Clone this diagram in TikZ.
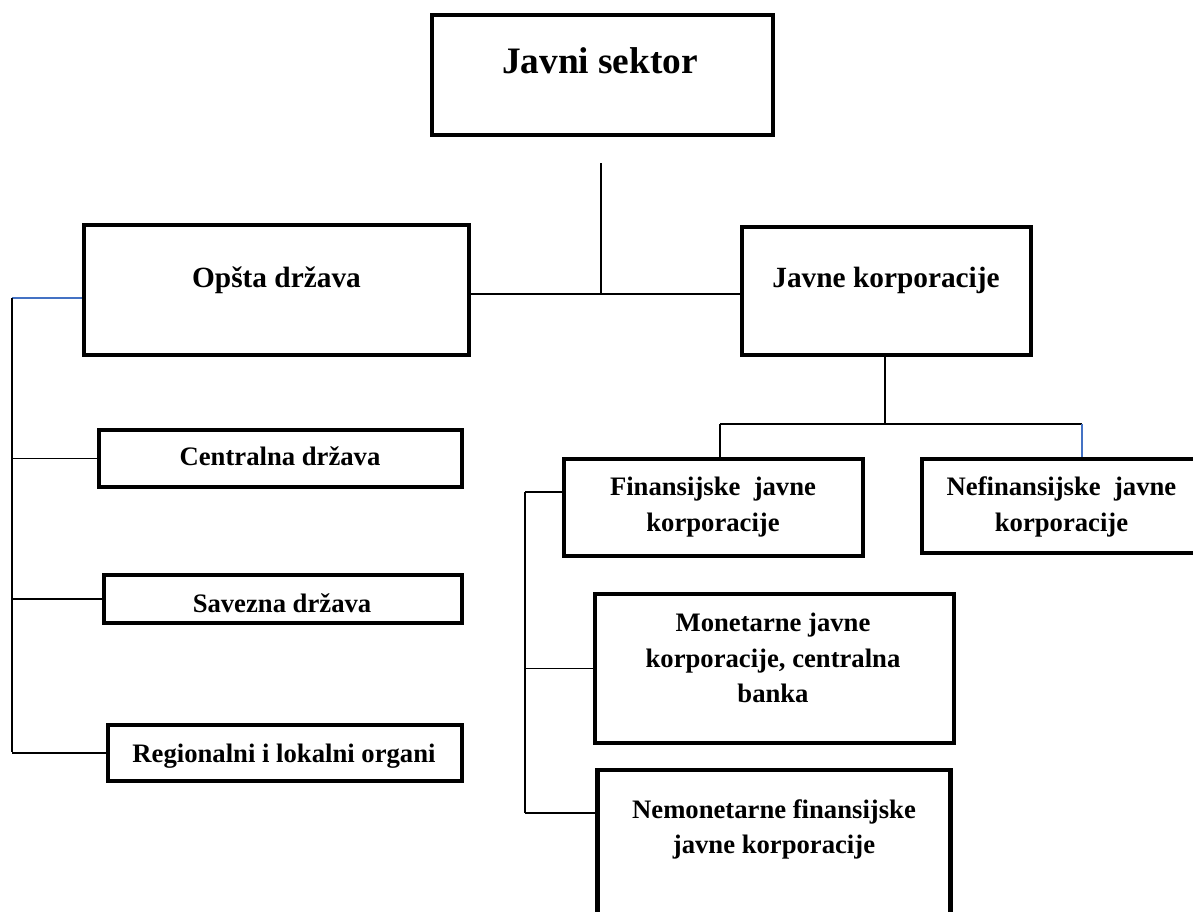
\documentclass[tikz,border=0pt]{standalone}
\usepackage{fontspec}
\setmainfont{Liberation Serif}
\definecolor{plava}{RGB}{68,114,196}
\tikzset{
  blok/.style={draw, line width=3.4pt, inner sep=0pt, rectangle},
  natpis/.style={font=\bfseries\fontsize{20}{26.5}\selectfont, align=center, inner sep=0pt},
  veza/.style={line width=0.9pt},
}
\begin{document}
\begin{tikzpicture}[x=0.75pt,y=0.75pt,yscale=-1,xscale=1]
\useasboundingbox (0,0) rectangle (1193,911);
% Boxes
\node[blok, minimum width=255.75pt, minimum height=90pt] (js) at (602.5,75) {};
\node[blok, minimum width=288.75pt, minimum height=97.5pt] (od) at (276.5,290) {};
\node[blok, minimum width=216.75pt, minimum height=96pt] (jk) at (886.5,291) {};
\node[blok, minimum width=272.25pt, minimum height=42.75pt] (cd) at (280.5,458.5) {};
\node[blok, minimum width=268.5pt, minimum height=36pt] (sd) at (283,599) {};
\node[blok, minimum width=265.5pt, minimum height=42pt] (rlo) at (285,753) {};
\node[blok, minimum width=224.25pt, minimum height=72.75pt] (fjk) at (713.5,507.5) {};
\node[blok, minimum width=216pt, minimum height=70.5pt] (njk) at (1066,506) {};
\node[blok, minimum width=269.25pt, minimum height=111.75pt] (mjk) at (774.5,668.5) {};
\node[blok, minimum width=264.75pt, minimum height=135pt] (nfjk) at (774,860) {};
% Labels
\node[natpis, font=\bfseries\fontsize{28}{32}\selectfont, anchor=base] (js-t) at (600,73) {Javni sektor};
\node[natpis, font=\bfseries\fontsize{22}{26}\selectfont, anchor=base] (od-t) at (276.5,287) {Opšta država};
\node[natpis, font=\bfseries\fontsize{22}{26}\selectfont, anchor=base] (jk-t) at (886,287) {Javne korporacije};
\node[natpis, anchor=base] (cd-t) at (280,465) {Centralna država};
\node[natpis, anchor=base] (sd-t) at (282,612) {Savezna država};
\node[natpis, anchor=base] (rlo-t) at (284,762) {Regionalni i lokalni organi};
\node[natpis] (fjk-t) at (713,507) {Finansijske~~javne\\korporacije};
\node[natpis] (njk-t) at (1061.5,507) {Nefinansijske~~javne\\korporacije};
\node[natpis] (mjk-t) at (773,658) {Monetarne javne\\korporacije, centralna\\banka};
\node[natpis] (nfjk-t) at (774,829.5) {Nemonetarne finansijske\\javne korporacije};
% Javni sektor
\coordinate (js-k) at (601,163);
\coordinate (sredina) at (601,294);
\draw[veza] (js-k) -- (sredina);
\draw[veza] (od.east |- sredina) -- (jk.west |- sredina);
% Opsta drzava
\coordinate (lijevo) at (12,298);
\coordinate (lijevo-dno) at (12,752);
\draw[veza, plava] (od.west |- lijevo) -- (lijevo);
\draw[veza] (lijevo) -- (lijevo-dno);
\foreach \b in {cd,sd,rlo}
  \draw[veza] (\b.west) -- (\b.west -| lijevo);
% Javne korporacije
\coordinate (grana) at (885,424);
\coordinate (g-l) at (720,424);
\coordinate (g-d) at (1082,424);
\draw[veza] (jk.south -| grana) -- (grana);
\draw[veza] (g-l) -- (g-d);
\draw[veza] (g-l) -- (g-l |- fjk.north);
\draw[veza, plava] (g-d) -- (g-d |- njk.north);
% Finansijske javne korporacije
\coordinate (f-gore) at (525,492);
\coordinate (f-dno) at (525,813);
\draw[veza] (f-gore) -- (f-dno);
\draw[veza] (f-gore) -- (fjk.west |- f-gore);
\draw[veza] (mjk.west) -- (mjk.west -| f-gore);
\draw[veza] (f-dno) -- (nfjk.west |- f-dno);
\end{tikzpicture}
\end{document}
